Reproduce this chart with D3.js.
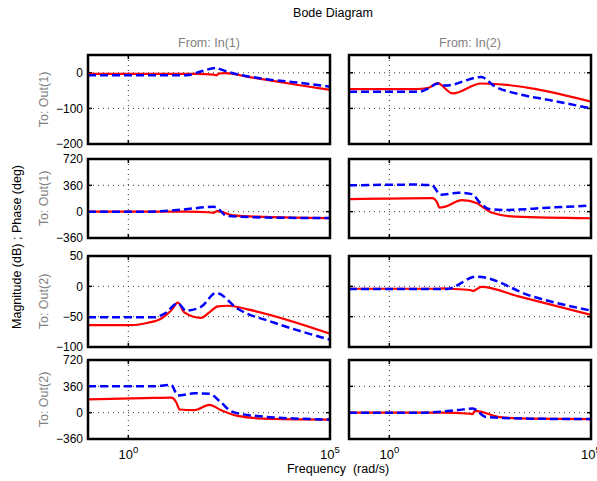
<!DOCTYPE html>
<html>
<head>
<meta charset="utf-8">
<script src="https://cdn.jsdelivr.net/npm/d3@7"></script>
<style>
  body { margin: 0; background: #fff; }
  svg { font-family: "Liberation Sans", Arial, Helvetica, sans-serif; }
</style>
</head>
<body>
<svg id="chart" width="597" height="481"></svg>
<script>
// frequency (rad/s), value pairs
const magOut1In1Red  = [[0.1,-3],[50,-3],[130,-5],[155,-7],[175,-2],[251,-1],[1000,-12],[17800,-35],[1e5,-48]];
const magOut1In1Blue = [[0.1,-7],[28,-7],[60,3],[155,14],[180,11],[2700,-18],[17800,-28],[1e5,-39]];
const magOut1In2Red  = [[0.1,-46],[4.5,-46],[9.5,-42],[15.5,-29],[37,-58],[190,-30],[1e5,-81]];
const magOut1In2Blue = [[0.1,-53],[5.4,-53],[9.5,-43],[16.2,-30],[24.5,-36],[190,-12],[398,-37],[1620,-60],[8900,-76],[1e5,-100]];

const phOut1In1Red  = [[0.1,0],[30,0],[100,-8],[130,-16],[160,8],[400,-50],[2500,-72],[1e5,-88]];
const phOut1In1Blue = [[0.1,0],[3.4,0],[23,30],[130,66],[150,60],[275,-58],[2500,-80],[1e5,-88]];
const phOut1In2Red  = [[0.1,171],[11.5,185],[15.5,120],[17.4,55],[24.5,69],[63,157],[151,115],[200,69],[355,-14],[1350,-69],[1e5,-90]];
const phOut1In2Blue = [[0.1,360],[5,370],[11.5,360],[18.6,231],[52.5,258],[112,240],[182,115],[295,37],[759,23],[8900,55],[1e5,83]];

const magOut2In1Red  = [[0.1,-64],[1.17,-64],[3.1,-60],[6.6,-53],[11.5,-40],[17,-27],[24.5,-43],[63,-52],[102,-43],[166,-33],[295,-32],[912,-38],[1e5,-78]];
const magOut2In1Blue = [[0.1,-51],[4.5,-51],[7.9,-45],[17,-28],[26.9,-40],[63,-34],[151,-11],[513,-37],[4170,-60],[1e5,-88]];
const magOut2In2Red  = [[0.1,-4],[17.8,-4],[20,-3.5],[30,-4],[100,-6],[120,-7.5],[190,-1],[1700,-17],[1e5,-47]];
const magOut2In2Blue = [[0.1,-4.5],[26,-4.5],[145,16],[3630,-17],[1e5,-40]];

const phOut2In1Red  = [[0.1,182],[4.5,202],[11.5,206],[15.5,139],[18.6,43],[43.6,34],[102,106],[200,34],[513,-43],[3470,-86],[1e5,-95]];
const phOut2In1Blue = [[0.1,360],[4.5,362],[11.5,379],[17,235],[43.6,264],[102,259],[200,139],[355,19],[1350,-43],[1e5,-95]];
const phOut2In2Red  = [[0.1,0],[20,0],[100,-15],[115,-20],[132,25],[550,-60],[3000,-82],[1e5,-88]];
const phOut2In2Blue = [[0.1,0],[5.8,0],[50,35],[117,58],[251,-60],[3000,-82],[1e5,-88]];

const magTicks1 = [-200, -100, 0];
const magTicks2 = [-100, -50, 0, 50];
const phaseTicks = [-360, 0, 360, 720];
const xTicks = [1, 1e5];
const colTitles = ["From: In(1)", "From: In(2)"];
const rowTitles = ["To: Out(1)", "To: Out(1)", "To: Out(2)", "To: Out(2)"];

const svg = d3.select("#chart");

const cols = [[88, 330], [349, 591]];
const rows = [[55, 144], [159, 238], [256, 347], [360, 439]];
const rowDomains = [[-200, 50], [-360, 720], [-100, 50], [-360, 720]];
const rowTicks = [magTicks1, phaseTicks, magTicks2, phaseTicks];
const series = [
  [[magOut1In1Red, magOut1In1Blue], [magOut1In2Red, magOut1In2Blue]],
  [[phOut1In1Red, phOut1In1Blue], [phOut1In2Red, phOut1In2Blue]],
  [[magOut2In1Red, magOut2In1Blue], [magOut2In2Red, magOut2In2Blue]],
  [[phOut2In1Red, phOut2In1Blue], [phOut2In2Red, phOut2In2Blue]]
];

const fmt = v => (v < 0 ? "\u2212" + Math.abs(v) : String(v));

rows.forEach((r, ri) => {
  cols.forEach((c, ci) => {
    const x = d3.scaleLog().domain([0.1, 1e5]).range(c);
    const y = d3.scaleLinear().domain(rowDomains[ri]).range([r[1], r[0]]);
    const g = svg.append("g");
    const id = "clip" + ri + ci;
    svg.append("clipPath").attr("id", id)
      .append("rect").attr("x", c[0]).attr("y", r[0])
      .attr("width", c[1] - c[0]).attr("height", r[1] - r[0]);

    // grid
    rowTicks[ri].forEach(t => {
      if (t <= rowDomains[ri][0] || t >= rowDomains[ri][1]) return;
      g.append("line").attr("x1", c[0]).attr("x2", c[1])
        .attr("y1", y(t)).attr("y2", y(t))
        .attr("stroke", "#333").attr("stroke-width", 1)
        .attr("stroke-dasharray", "1,4");
    });
    g.append("line").attr("x1", x(1)).attr("x2", x(1))
      .attr("y1", r[0]).attr("y2", r[1])
      .attr("stroke", "#333").attr("stroke-width", 1)
      .attr("stroke-dasharray", "1,4");

    // inner ticks
    rowTicks[ri].forEach(t => {
      [[c[0], c[0] + 4], [c[1] - 4, c[1]]].forEach(p => {
        g.append("line").attr("x1", p[0]).attr("x2", p[1])
          .attr("y1", y(t)).attr("y2", y(t))
          .attr("stroke", "#000").attr("stroke-width", 1.5);
      });
    });
    [[r[0], r[0] + 4], [r[1] - 4, r[1]]].forEach(p => {
      g.append("line").attr("x1", x(1)).attr("x2", x(1))
        .attr("y1", p[0]).attr("y2", p[1])
        .attr("stroke", "#000").attr("stroke-width", 1.5);
    });

    const line = d3.line()
      .x(d => x(d[0])).y(d => y(d[1]))
      .curve(d3.curveMonotoneX);

    const [red, blue] = series[ri][ci];
    g.append("path").datum(red).attr("d", line)
      .attr("clip-path", "url(#" + id + ")")
      .attr("fill", "none").attr("stroke", "#ff0000").attr("stroke-width", 2.2);
    g.append("path").datum(blue).attr("d", line)
      .attr("clip-path", "url(#" + id + ")")
      .attr("fill", "none").attr("stroke", "#0000ff").attr("stroke-width", 2.5)
      .attr("stroke-dasharray", "8,4");

    g.append("rect").attr("x", c[0]).attr("y", r[0])
      .attr("width", c[1] - c[0]).attr("height", r[1] - r[0])
      .attr("fill", "none").attr("stroke", "#000").attr("stroke-width", 2.5);

    if (ci === 0) {
      rowTicks[ri].forEach(t => {
        g.append("text").attr("x", c[0] - 5).attr("y", y(t))
          .attr("dy", "0.35em").attr("text-anchor", "end")
          .attr("font-size", 12).text(fmt(t));
      });
    }
    if (ri === 3) {
      xTicks.forEach(t => {
        const tx = g.append("text").attr("x", x(t)).attr("y", 459)
          .attr("text-anchor", "middle").attr("font-size", 13);
        tx.append("tspan").text("10");
        tx.append("tspan").attr("dy", -6).attr("font-size", 9.5).text(Math.round(Math.log10(t)));
      });
    }
  });
});

colTitles.forEach((t, ci) => {
  svg.append("text").attr("x", (cols[ci][0] + cols[ci][1]) / 2).attr("y", 47)
    .attr("text-anchor", "middle").attr("font-size", 12.5).attr("fill", "#7f7f7f").text(t);
});
rowTitles.forEach((t, ri) => {
  const cy = (rows[ri][0] + rows[ri][1]) / 2;
  svg.append("text").attr("transform", `translate(48,${cy}) rotate(-90)`)
    .attr("text-anchor", "middle").attr("font-size", 12.5).attr("fill", "#7f7f7f").text(t);
});

svg.append("text").attr("x", 333).attr("y", 17)
  .attr("text-anchor", "middle").attr("font-size", 12.5).text("Bode Diagram");
svg.append("text").attr("x", 338).attr("y", 473)
  .attr("text-anchor", "middle").attr("font-size", 12.5)
  .attr("xml:space", "preserve").text("Frequency  (rad/s)");
svg.append("text").attr("transform", "translate(21,247) rotate(-90)")
  .attr("text-anchor", "middle").attr("font-size", 12.5)
  .text("Magnitude (dB) ; Phase (deg)");
</script>
</body>
</html>
